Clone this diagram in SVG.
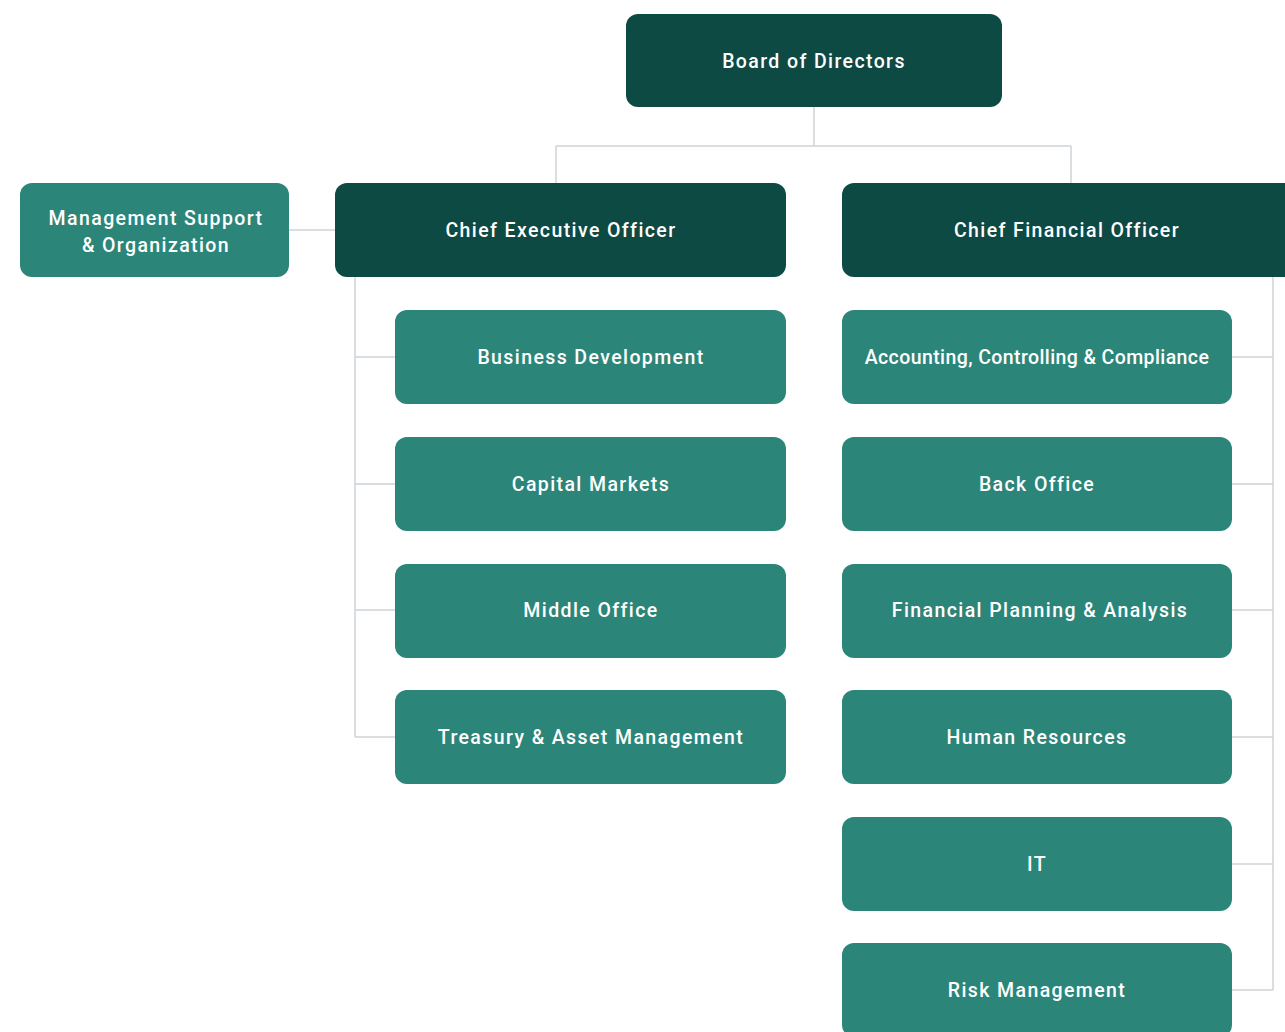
<svg xmlns="http://www.w3.org/2000/svg" width="1285" height="1032" viewBox="0 0 1285 1032">
  <style>
    .exec { fill: #0e4a44; }
    .unit { fill: #2c8579; }
    .lbl { fill: #ffffff; font-family: Roboto, "Noto Sans", sans-serif; font-size: 19.5px; font-weight: 500; letter-spacing: 1.4px; text-anchor: middle; dominant-baseline: central; }
    .tight { letter-spacing: 0.4px; }
    .wire { fill: none; stroke: #cfd3d7; stroke-width: 1.5; }
  </style>
  <rect width="1285" height="1032" fill="#ffffff"/>

  <!-- connectors -->
  <g id="connectors" class="wire">
    <path d="M814 107 V146 M556 146 H1071 M556 146 V183 M1071 146 V183"/>
    <path d="M289 230 H335"/>
    <path d="M355 277 V737 M355 357 H395 M355 484 H395 M355 610 H395 M355 737 H395"/>
    <path d="M1273 277 V990 M1232 357 H1273 M1232 484 H1273 M1232 610 H1273 M1232 737 H1273 M1232 864 H1273 M1232 990 H1273"/>
  </g>

  <g id="board">
    <rect class="exec" x="626" y="14" width="376" height="93" rx="12"/>
    <text class="lbl" x="814" y="61">Board of Directors</text>
  </g>
  <g id="mgmt-support">
    <rect class="unit" x="20" y="183" width="269" height="94" rx="12"/>
    <text class="lbl" x="156" y="218">Management Support</text>
    <text class="lbl" x="156" y="245">&amp; Organization</text>
  </g>
  <g id="ceo">
    <rect class="exec" x="335" y="183" width="451" height="94" rx="12"/>
    <text class="lbl" x="561" y="230">Chief Executive Officer</text>
  </g>
  <g id="cfo">
    <rect class="exec" x="842" y="183" width="456" height="94" rx="12"/>
    <text class="lbl" x="1067" y="230">Chief Financial Officer</text>
  </g>

  <!-- CEO units -->
  <g id="business-development">
    <rect class="unit" x="395" y="310" width="391" height="94" rx="12"/>
    <text class="lbl" x="591" y="357">Business Development</text>
  </g>
  <g id="capital-markets">
    <rect class="unit" x="395" y="437" width="391" height="94" rx="12"/>
    <text class="lbl" x="591" y="484">Capital Markets</text>
  </g>
  <g id="middle-office">
    <rect class="unit" x="395" y="564" width="391" height="94" rx="12"/>
    <text class="lbl" x="591" y="610">Middle Office</text>
  </g>
  <g id="treasury">
    <rect class="unit" x="395" y="690" width="391" height="94" rx="12"/>
    <text class="lbl" x="591" y="737">Treasury &amp; Asset Management</text>
  </g>

  <!-- CFO units -->
  <g id="accounting">
    <rect class="unit" x="842" y="310" width="390" height="94" rx="12"/>
    <text class="lbl tight" x="1037" y="357">Accounting, Controlling &amp; Compliance</text>
  </g>
  <g id="back-office">
    <rect class="unit" x="842" y="437" width="390" height="94" rx="12"/>
    <text class="lbl" x="1037" y="484">Back Office</text>
  </g>
  <g id="fpa">
    <rect class="unit" x="842" y="564" width="390" height="94" rx="12"/>
    <text class="lbl" x="1040" y="610">Financial Planning &amp; Analysis</text>
  </g>
  <g id="human-resources">
    <rect class="unit" x="842" y="690" width="390" height="94" rx="12"/>
    <text class="lbl" x="1037" y="737">Human Resources</text>
  </g>
  <g id="it">
    <rect class="unit" x="842" y="817" width="390" height="94" rx="12"/>
    <text class="lbl" x="1037" y="864">IT</text>
  </g>
  <g id="risk-management">
    <rect class="unit" x="842" y="943" width="390" height="94" rx="12"/>
    <text class="lbl" x="1037" y="990">Risk Management</text>
  </g>
</svg>
